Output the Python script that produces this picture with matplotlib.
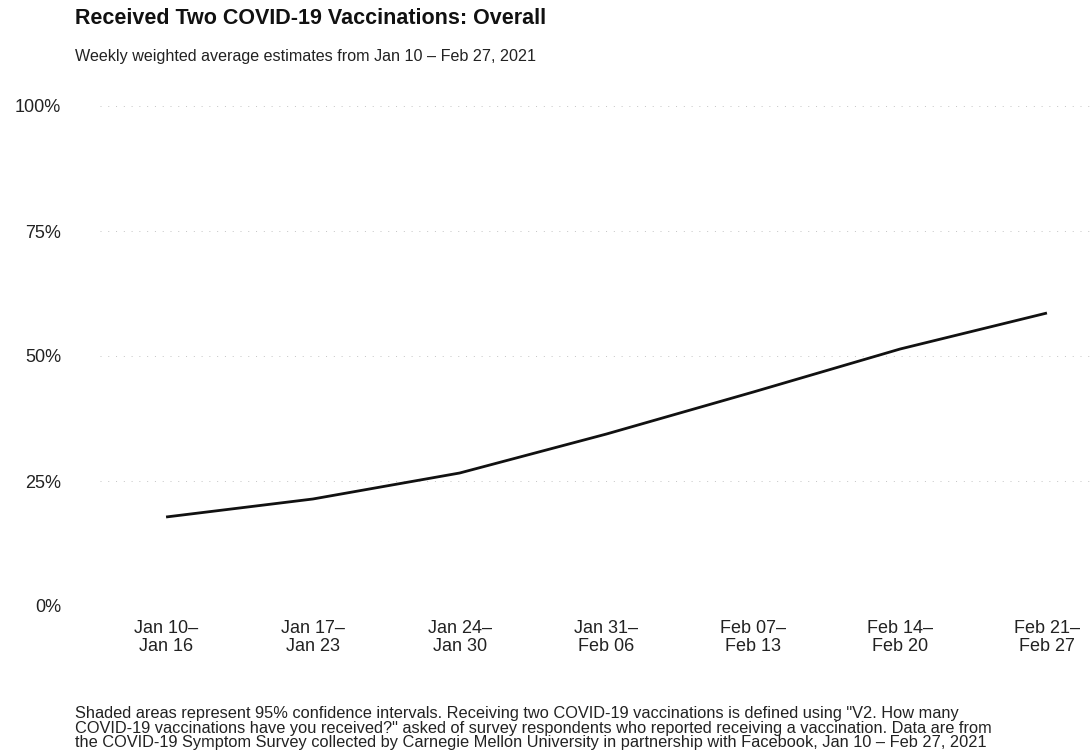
import matplotlib
matplotlib.use('Agg')
import matplotlib.pyplot as plt

plt.rcParams['font.family'] = ['Liberation Sans', 'DejaVu Sans']

weeks = ['Jan 10–\nJan 16', 'Jan 17–\nJan 23', 'Jan 24–\nJan 30', 'Jan 31–\nFeb 06',
         'Feb 07–\nFeb 13', 'Feb 14–\nFeb 20', 'Feb 21–\nFeb 27']
pct_two_doses = [17.8, 21.4, 26.6, 34.4, 42.8, 51.4, 58.6]
y_ticks = [0, 25, 50, 75, 100]
y_labels = ['0%', '25%', '50%', '75%', '100%']

title = 'Received Two COVID-19 Vaccinations: Overall'
subtitle = 'Weekly weighted average estimates from Jan 10 – Feb 27, 2021'
footnote = ('Shaded areas represent 95% confidence intervals. Receiving two COVID-19 vaccinations is defined using "V2. How many\n'
            'COVID-19 vaccinations have you received?" asked of survey respondents who reported receiving a vaccination. Data are from\n'
            'the COVID-19 Symptom Survey collected by Carnegie Mellon University in partnership with Facebook, Jan 10 – Feb 27, 2021')

fig = plt.figure(figsize=(10.91, 7.54), dpi=100)
ax = fig.add_axes([100/1091, 148/754, 991/1091, 500/754])

x = list(range(len(weeks)))
ax.plot(x, pct_two_doses, color='#111111', linewidth=2.0, solid_capstyle='butt')

ax.set_xlim(-0.45, 6.3)
ax.set_ylim(0, 100)
ax.set_yticks(y_ticks)
ax.set_yticklabels(y_labels)
ax.set_xticks(x)
ax.set_xticklabels(weeks, linespacing=1.12)
ax.tick_params(axis='y', length=0, pad=28, labelsize=13, colors='#222222')
ax.tick_params(axis='x', length=0, pad=10, labelsize=13, colors='#222222')
ax.grid(axis='y', color='#c4c4c4', linestyle=(0, (1, 7)), linewidth=0.7)
ax.set_axisbelow(True)
for s in ax.spines.values():
    s.set_visible(False)

fig.text(75/1091, 1 - 18/754, title, fontsize=15.5, fontweight='bold', va='center', color='#111111')
fig.text(75/1091, 1 - 56/754, subtitle, fontsize=11.6, va='center', color='#222222')
fig.text(75/1091, 1 - 728/754, footnote, fontsize=11.8, va='center', linespacing=0.93, color='#222222')

fig.savefig('out.png', dpi=100)
